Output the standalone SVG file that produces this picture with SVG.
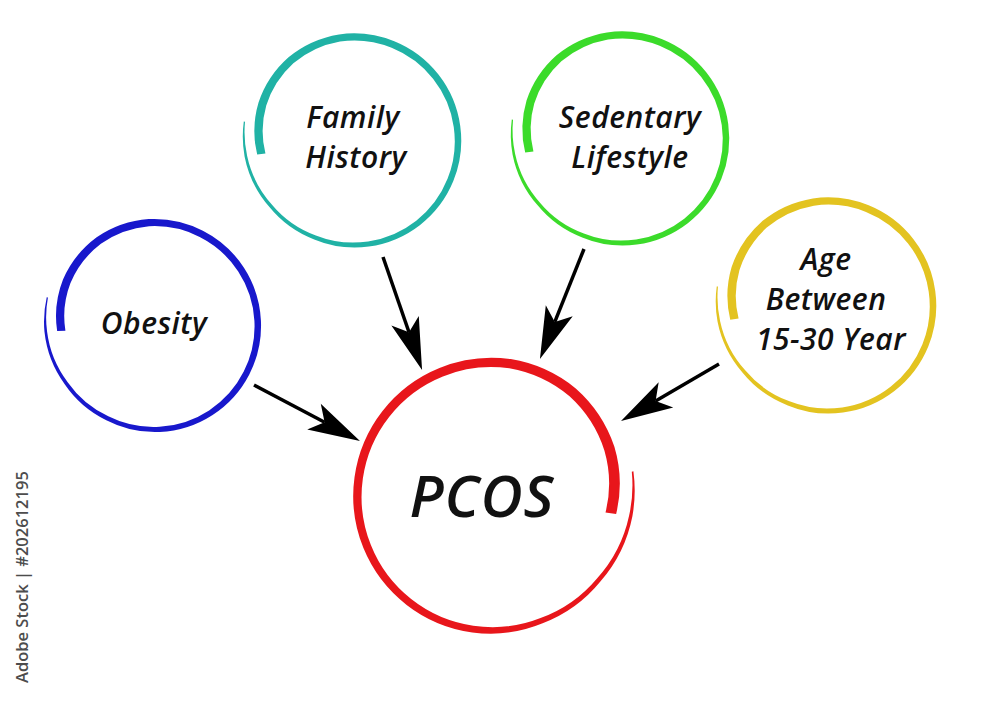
<svg xmlns="http://www.w3.org/2000/svg" xmlns:xlink="http://www.w3.org/1999/xlink" width="1000" height="701" viewBox="0 0 1000 701">
<style>
.lbl{font-family:"Open Sans","Liberation Sans",sans-serif;font-style:italic;font-weight:600;font-size:30px;letter-spacing:0.5px;fill:#111;text-anchor:middle}
.big{font-size:58px;letter-spacing:1px}
.wm{font-family:"Open Sans","Liberation Sans",sans-serif;font-weight:600;font-size:16.5px;fill:#4d4d4d}
.conn{stroke:#000;stroke-width:3.5;fill:none;marker-end:url(#ah)}
.blue{fill:#1818cc}
.teal{fill:#20b2a5}
.green{fill:#3bdb2a}
.yellow{fill:#e3c320}
.red{fill:#e8161b}
</style>
<defs>
<marker id="ah" markerUnits="userSpaceOnUse" markerWidth="54" markerHeight="32" viewBox="0 0 54 32" refX="13" refY="16" orient="auto">
<path d="M53,16 L1,1.5 L13,16 L1,30.5 Z" fill="#000"/>
</marker>
<path id="ring" d="M-93.09,13.08 A96.5,96.5 0 0 1 -91.79,-37.09 A100.6,100.6 0 0 1 -62.95,-80.57 A102.9,102.9 0 0 1 -14.40,-102.49 A103.45,103.45 0 0 1 38.73,-95.87 A103.35,103.35 0 0 1 81.40,-63.60 A103.2,103.2 0 0 1 102.15,-14.36 A103.1,103.1 0 0 1 95.50,38.58 A102.9,102.9 0 0 1 63.26,80.97 A102.6,102.6 0 0 1 14.26,101.50 A102.3,102.3 0 0 1 -38.25,94.67 A102.6,102.6 0 0 1 -81.32,63.54 A104.7,104.7 0 0 1 -105.22,14.79 A107,107 0 0 1 -105.97,-18.68 L-104.78,-18.48 A105,105 0 0 0 -102.74,14.44 A101.8,101.8 0 0 0 -78.64,61.44 A98.8,98.8 0 0 0 -36.67,90.77 A97.7,97.7 0 0 0 13.57,96.55 A97.4,97.4 0 0 0 59.87,76.63 A97.1,97.1 0 0 0 89.94,36.34 A96.9,96.9 0 0 0 95.91,-13.48 A96.8,96.8 0 0 0 76.20,-59.53 A96.6,96.6 0 0 0 36.19,-89.57 A96.5,96.5 0 0 0 -13.43,-95.56 A95.6,95.6 0 0 0 -58.33,-74.66 A92.9,92.9 0 0 0 -84.37,-34.09 A88.5,88.5 0 0 0 -85.16,11.97 Z"/>
</defs>
<rect width="1000" height="701" fill="#fff"/>
<text class="wm" transform="translate(28,683) rotate(-90)">Adobe Stock | #202612195</text>
<g id="connectors">
<path class="conn" d="M383,257 L409,332.2"/>
<path class="conn" d="M584,249 L554.8,321.9"/>
<path class="conn" d="M254,385 L324.6,422.3"/>
<path class="conn" d="M719,364 L655.6,400.9"/>
</g>
<g id="node-obesity">
<use xlink:href="#ring" href="#ring" class="blue" transform="translate(154.3,326) rotate(5) scale(1.035)"/>
<text class="lbl" x="154" y="334">Obesity</text>
</g>
<g id="node-family-history">
<use xlink:href="#ring" href="#ring" class="teal" transform="translate(354,141) scale(1.04)"/>
<text class="lbl" x="353" y="128">Family</text>
<text class="lbl" x="356" y="168">History</text>
</g>
<g id="node-sedentary-lifestyle">
<use xlink:href="#ring" href="#ring" class="green" transform="translate(622,139) scale(1.04)"/>
<text class="lbl" x="630" y="128">Sedentary</text>
<text class="lbl" x="630" y="168">Lifestyle</text>
</g>
<g id="node-age">
<use xlink:href="#ring" href="#ring" class="yellow" transform="translate(828,306) scale(1.05)"/>
<text class="lbl" x="826" y="270">Age</text>
<text class="lbl" x="826" y="310">Between</text>
<text class="lbl" x="831" y="350">15-30 Year</text>
</g>
<g id="node-pcos">
<use xlink:href="#ring" href="#ring" class="red" transform="translate(491.4,496.4) scale(-1.34,1.34)"/>
<text class="lbl big" x="482" y="517">PCOS</text>
</g>
</svg>
